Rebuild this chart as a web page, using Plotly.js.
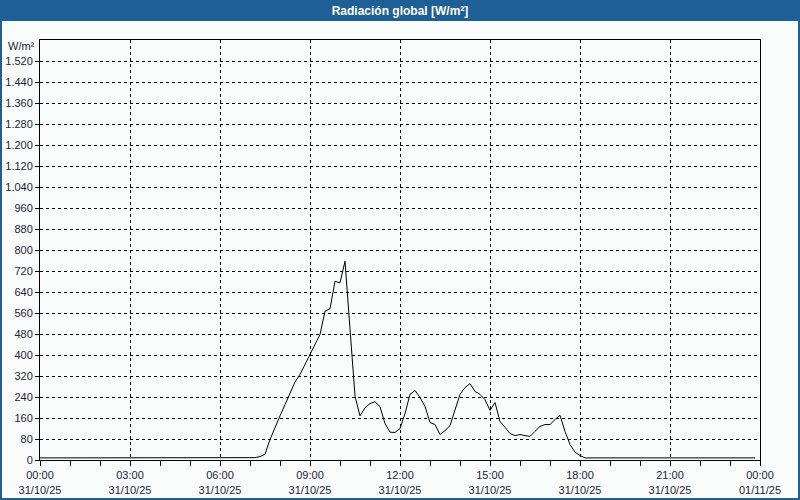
<!DOCTYPE html>
<html><head><meta charset="utf-8">
<script src="https://cdn.plot.ly/plotly-3.0.1.min.js"></script>
<style>html,body{margin:0;padding:0;background:#fafcfb}#chart{width:800px;height:500px}</style>
</head><body><div id="chart"></div>
<script>
// Global radiation, 31/10/25 (10-minute readings, W/m²)
const times = [
  '2025-10-31 00:00','2025-10-31 07:10','2025-10-31 07:20','2025-10-31 07:30','2025-10-31 07:40',
  '2025-10-31 07:50','2025-10-31 08:00','2025-10-31 08:10','2025-10-31 08:20','2025-10-31 08:30',
  '2025-10-31 08:40','2025-10-31 08:50','2025-10-31 09:00','2025-10-31 09:10','2025-10-31 09:20',
  '2025-10-31 09:30','2025-10-31 09:40','2025-10-31 09:50','2025-10-31 10:00','2025-10-31 10:10',
  '2025-10-31 10:20','2025-10-31 10:30','2025-10-31 10:40','2025-10-31 10:50','2025-10-31 11:00',
  '2025-10-31 11:10','2025-10-31 11:20','2025-10-31 11:30','2025-10-31 11:40','2025-10-31 11:50',
  '2025-10-31 12:00','2025-10-31 12:10','2025-10-31 12:20','2025-10-31 12:30','2025-10-31 12:40',
  '2025-10-31 12:50','2025-10-31 13:00','2025-10-31 13:10','2025-10-31 13:20','2025-10-31 13:30',
  '2025-10-31 13:40','2025-10-31 13:50','2025-10-31 14:00','2025-10-31 14:10','2025-10-31 14:20',
  '2025-10-31 14:30','2025-10-31 14:40','2025-10-31 14:50','2025-10-31 15:00','2025-10-31 15:10',
  '2025-10-31 15:20','2025-10-31 15:30','2025-10-31 15:40','2025-10-31 15:50','2025-10-31 16:00',
  '2025-10-31 16:10','2025-10-31 16:20','2025-10-31 16:30','2025-10-31 16:40','2025-10-31 16:50',
  '2025-10-31 17:00','2025-10-31 17:10','2025-10-31 17:20','2025-10-31 17:30','2025-10-31 17:40',
  '2025-10-31 17:50','2025-10-31 18:00','2025-10-31 18:10','2025-10-31 23:50'
];
const radiation = [
  8, 9, 13, 22, 78,
  125, 168, 211, 254, 297,
  326, 364, 402, 440, 478,
  567, 576, 681, 675, 757,
  500, 243, 168, 199, 215,
  222, 203, 139, 106, 105,
  120, 177, 250, 265, 238,
  204, 143, 135, 97, 112,
  131, 189, 250, 276, 291,
  261, 250, 230, 189, 219,
  147, 124, 101, 93, 97,
  93, 90, 109, 128, 135,
  135, 154, 170, 109, 59,
  30, 17, 8, 8
];
const xTickVals = ['2025-10-31 00:00','2025-10-31 03:00','2025-10-31 06:00','2025-10-31 09:00','2025-10-31 12:00',
  '2025-10-31 15:00','2025-10-31 18:00','2025-10-31 21:00','2025-11-01 00:00'];
const xTickText = ['00:00<br>31/10/25','03:00<br>31/10/25','06:00<br>31/10/25','09:00<br>31/10/25','12:00<br>31/10/25',
  '15:00<br>31/10/25','18:00<br>31/10/25','21:00<br>31/10/25','00:00<br>01/11/25'];
const yTickVals = [0,80,160,240,320,400,480,560,640,720,800,880,960,1040,1120,1200,1280,1360,1440,1520];

const blue = '#1e5f96';
const txt = '#1b2340';
const font = {family: 'Liberation Sans, Arial, sans-serif', size: 11, color: txt};

const trace = {
  x: times, y: radiation, type: 'scatter', mode: 'lines',
  line: {color: '#000', width: 1}, hoverinfo: 'skip', showlegend: false
};

// paper coordinates of page pixels (plot area 40..760 x 40..460)
const px = p => (p - 40) / 720;
const py = p => (460 - p) / 420;

const layout = {
  width: 800, height: 500,
  margin: {l: 40, r: 40, t: 40, b: 40},
  paper_bgcolor: '#fafcfb', plot_bgcolor: '#fafcfb',
  separators: ',.',
  font: font,
  title: {text: '<b>Radiación global [W/m²]</b>', x: 0.5, xanchor: 'center', y: 1 - 10.5/500, yanchor: 'middle',
          yref: 'container', font: {family: 'Liberation Sans, Arial, sans-serif', size: 12, color: '#ffffff'}},
  xaxis: {
    type: 'date', range: ['2025-10-31 00:00', '2025-11-01 00:00'], fixedrange: true,
    tickmode: 'array', tickvals: xTickVals, ticktext: xTickText,
    ticks: 'outside', ticklen: 5, tickcolor: '#000', tickwidth: 1,
    showgrid: true, gridcolor: '#000', gridwidth: 1, griddash: '3px,3px',
    showline: true, mirror: true, linecolor: '#000', linewidth: 1,
    zeroline: false, tickfont: font,
    minor: {dtick: 3600000, tick0: '2025-10-31 00:00', ticks: 'outside', ticklen: 5, tickcolor: '#000', tickwidth: 1, showgrid: false}
  },
  yaxis: {
    range: [0, 1600], fixedrange: true,
    tickmode: 'array', tickvals: yTickVals, tickformat: ',d', separatethousands: true,
    ticks: 'outside', ticklen: 4, tickcolor: '#000', tickwidth: 1,
    showgrid: true, gridcolor: '#000', gridwidth: 1, griddash: '3px,3px',
    showline: true, mirror: true, linecolor: '#000', linewidth: 1,
    zeroline: false, tickfont: font
  },
  annotations: [{
    text: 'W/m²', xref: 'paper', yref: 'paper', x: 0, y: py(46), xanchor: 'right', yanchor: 'middle',
    xshift: -3, showarrow: false, font: font
  }],
  shapes: [
    {type: 'rect', xref: 'paper', yref: 'paper', x0: px(0), x1: px(800), y0: py(21), y1: py(0), fillcolor: blue, line: {width: 0}, layer: 'below'},
    {type: 'rect', xref: 'paper', yref: 'paper', x0: px(0), x1: px(2), y0: py(500), y1: py(0), fillcolor: blue, line: {width: 0}, layer: 'below'},
    {type: 'rect', xref: 'paper', yref: 'paper', x0: px(798), x1: px(800), y0: py(500), y1: py(0), fillcolor: blue, line: {width: 0}, layer: 'below'},
    {type: 'rect', xref: 'paper', yref: 'paper', x0: px(0), x1: px(800), y0: py(500), y1: py(498), fillcolor: blue, line: {width: 0}, layer: 'below'}
  ]
};

Plotly.newPlot('chart', [trace], layout, {displayModeBar: false, staticPlot: true});
</script>
</body></html>
